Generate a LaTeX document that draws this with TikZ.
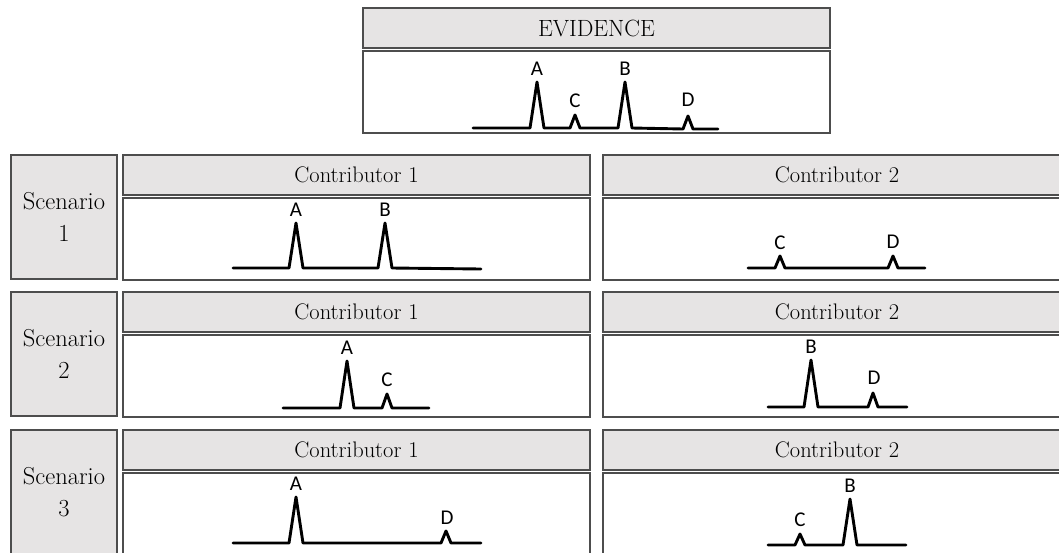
\documentclass[tikz,border=0pt]{standalone}
\usepackage{fontspec}
\newfontfamily\lettere{Carlito}
\definecolor{grigio}{HTML}{E6E4E4}
\definecolor{bordo}{HTML}{4D4D4D}
\tikzset{
  riq/.style={draw=bordo, line width=1.6pt, anchor=north west, inner sep=0pt, outer sep=0pt},
  testa/.style={riq, fill=grigio, font=\fontsize{22.5}{32}\selectfont, align=center},
  corpo/.style={riq, fill=white},
  picco/.style={line width=2.9pt, line join=round, line cap=round},
  lett/.style={font=\lettere\fontsize{21}{21}\selectfont, inner sep=0pt}
}
\begin{document}
\begin{tikzpicture}[x=1pt,y=-1pt]
  \useasboundingbox (0,0) rectangle (1059,552);
  \clip (0,0) rectangle (1059,552);
  %evidenza
  \node[testa, font=\fontsize{23.5}{32}\selectfont, minimum width=467, minimum height=40] (evid) at (363,8) {EVIDENCE};
  \node[corpo, minimum width=467, minimum height=82] (evidcorpo) at (363,51) {};
  \draw[picco] (473,128) -- (530,128) -- (537,82) -- (544,128) -- (570,128) -- (575,115) -- (580,128) -- (618,128) -- (625,82) -- (632,128) -- (683,129) -- (688,116) -- (693,129) -- (718,129);
  \node[lett] (eA) at (537,69) {A};
  \node[lett] (eC) at (575,101) {C};
  \node[lett] (eB) at (625,69) {B};
  \node[lett] (eD) at (688,100) {D};
  %scenari
  \foreach \s/\y in {1/155,2/292,3/430}{
    \node[testa, font=\fontsize{24.5}{32}\selectfont, minimum width=106, minimum height=124] (sc\s) at (11,\y) {Scenario\\ \s};
    \node[testa, minimum width=467, minimum height=40] (ca\s) at (123,\y) {Contributor 1};
    \node[corpo, minimum width=467, minimum height=82] (cacorpo\s) at (123,\y+43) {};
    \node[testa, minimum width=468, minimum height=40] (cb\s) at (603,\y) {Contributor 2};
    \node[corpo, minimum width=468, minimum height=82] (cbcorpo\s) at (603,\y+43) {};
  }
  %picchi scenario 1
  \draw[picco] (233,268) -- (289,268) -- (296,223) -- (303,268) -- (378,268) -- (385,223) -- (392,268) -- (481,269);
  \node[lett] (a1A) at (296,210) {A};
  \node[lett] (a1B) at (385,210) {B};
  \draw[picco] (748,268) -- (775,268) -- (780,256) -- (785,268) -- (888,268) -- (893,256) -- (898,268) -- (925,268);
  \node[lett] (b1C) at (780,243) {C};
  \node[lett] (b1D) at (893,242) {D};
  %picchi scenario 2
  \draw[picco] (283,408) -- (340,408) -- (347,361) -- (354,408) -- (382,408) -- (387,394) -- (392,408) -- (429,408);
  \node[lett] (a2A) at (347,348) {A};
  \node[lett] (a2C) at (387,380) {C};
  \draw[picco] (768,407) -- (804,407) -- (811,360) -- (818,407) -- (868,407) -- (873,393) -- (878,407) -- (907,407);
  \node[lett] (b2B) at (811,347) {B};
  \node[lett] (b2D) at (874,378) {D};
  %picchi scenario 3
  \draw[picco] (233,543) -- (289,543) -- (296,497) -- (303,543) -- (441,543) -- (446,531) -- (451,543) -- (481,543);
  \node[lett] (a3A) at (296,484) {A};
  \node[lett] (a3D) at (447,518) {D};
  \draw[picco] (768,545) -- (795,545) -- (800,534) -- (805,545) -- (843,545) -- (850,499) -- (857,545) -- (906,545);
  \node[lett] (b3C) at (800,520) {C};
  \node[lett] (b3B) at (850,486) {B};
\end{tikzpicture}
\end{document}
